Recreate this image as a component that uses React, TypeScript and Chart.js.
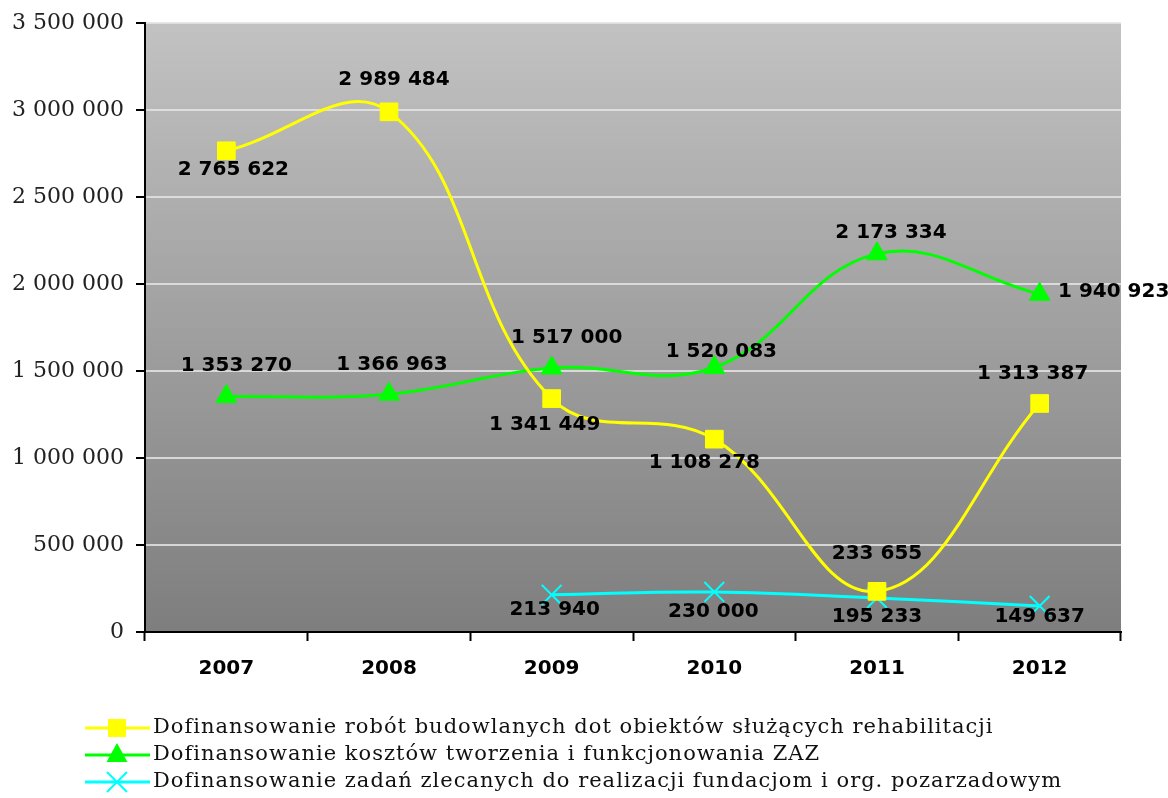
import React, { useEffect, useRef } from "react";
import { Chart, registerables } from "chart.js";

Chart.register(...registerables);

const categories = ["2007", "2008", "2009", "2010", "2011", "2012"];
const seriesNames = [
  "Dofinansowanie robót budowlanych dot obiektów służących rehabilitacji",
  "Dofinansowanie kosztów tworzenia i funkcjonowania ZAZ",
  "Dofinansowanie zadań zlecanych do realizacji fundacjom i org. pozarzadowym",
];
const robotyValues = [2765622, 2989484, 1341449, 1108278, 233655, 1313387];
const zazValues = [1353270, 1366963, 1517000, 1520083, 2173334, 1940923];
const fundacjeValues = [null, null, 213940, 230000, 195233, 149637];
const yTicksMin = 0;
const yTicksMax = 3500000;
const yTicksStep = 500000;

// label placement (text center offset from the point, px)
const robotyLabelOffsets = [[7, 19], [5, -32], [-7, 26], [-10, 24], [0, -38], [-7, -30]];
const zazLabelOffsets = [[10, -31], [3, -29], [15, -30], [7, -16], [14, -21], [74, -2]];
const fundacjeLabelOffsets = [[0, 0], [0, 0], [3, 15], [-1, 20], [0, 19], [0, 11]];

const fmt = (v: number) => String(Math.round(v)).replace(/\B(?=(\d{3})+(?!\d))/g, " ");

const colors = ["#ffff00", "#00ff00", "#00ffff"];
const pointStyles = ["rect", "triangle", "crossRot"];
const pointRadii = [12.5, 12, 14];

const bgPlugin = {
  id: "bgGradient",
  beforeDraw(chart: any) {
    const { ctx, chartArea } = chart;
    if (!chartArea) return;
    const g = ctx.createLinearGradient(0, chartArea.top, 0, chartArea.bottom);
    g.addColorStop(0, "#c2c2c2");
    g.addColorStop(1, "#7e7e7e");
    ctx.save();
    ctx.fillStyle = g;
    ctx.fillRect(chartArea.left, chartArea.top, chartArea.right - chartArea.left, chartArea.bottom - chartArea.top);
    ctx.restore();
  },
};

const labelsPlugin = {
  id: "valueLabels",
  afterDatasetsDraw(chart: any) {
    const { ctx } = chart;
    const offsets = [robotyLabelOffsets, zazLabelOffsets, fundacjeLabelOffsets];
    ctx.save();
    ctx.font = "bold 20px 'DejaVu Sans'";
    ctx.fillStyle = "#000";
    ctx.textAlign = "center";
    ctx.textBaseline = "middle";
    chart.data.datasets.forEach((ds: any, di: number) => {
      const meta = chart.getDatasetMeta(di);
      meta.data.forEach((pt: any, i: number) => {
        const v = ds.data[i];
        if (v === null || v === undefined) return;
        const [dx, dy] = offsets[di][i];
        ctx.fillText(fmt(v), pt.x + dx, pt.y + dy);
      });
    });
    ctx.restore();
  },
};

const legendPlugin = {
  id: "customLegend",
  afterDraw(chart: any) {
    const { ctx } = chart;
    const rowsY = [728, 755, 782];
    ctx.save();
    seriesNames.forEach((name, i) => {
      const y = rowsY[i];
      ctx.strokeStyle = colors[i];
      ctx.lineWidth = 3;
      ctx.beginPath();
      ctx.moveTo(85, y);
      ctx.lineTo(150, y);
      ctx.stroke();
      ctx.fillStyle = colors[i];
      if (i === 0) {
        ctx.fillRect(108, y - 9, 18, 18);
      } else if (i === 1) {
        ctx.beginPath();
        ctx.moveTo(117, y - 12);
        ctx.lineTo(127.5, y + 7);
        ctx.lineTo(106.5, y + 7);
        ctx.closePath();
        ctx.fill();
      } else {
        ctx.lineWidth = 2;
        ctx.beginPath();
        ctx.moveTo(107, y - 10);
        ctx.lineTo(127, y + 10);
        ctx.moveTo(127, y - 10);
        ctx.lineTo(107, y + 10);
        ctx.stroke();
      }
      ctx.fillStyle = "#111";
      ctx.font = "21px 'DejaVu Serif'";
      (ctx as any).letterSpacing = "1px";
      ctx.textAlign = "left";
      ctx.textBaseline = "middle";
      ctx.fillText(name, 153, y);
      (ctx as any).letterSpacing = "0px";
    });
    ctx.restore();
  },
};

export default function App() {
  const canvasRef = useRef<HTMLCanvasElement>(null);
  useEffect(() => {
    document.body.style.margin = "0";
    const canvas = canvasRef.current;
    if (!canvas) return;
    const valueSets = [robotyValues, zazValues, fundacjeValues];
    const chart = new Chart(canvas, {
      type: "line",
      data: {
        labels: categories,
        datasets: valueSets.map((vals, i) => ({
          label: seriesNames[i],
          data: vals,
          borderColor: colors[i],
          backgroundColor: colors[i],
          pointBackgroundColor: colors[i],
          pointBorderColor: colors[i],
          borderWidth: 3,
          pointStyle: pointStyles[i] as any,
          pointRadius: pointRadii[i],
          pointBorderWidth: i === 2 ? 2 : 1,
          tension: 0.4,
          fill: false,
          spanGaps: false,
        })),
      },
      options: {
        animation: false,
        responsive: true,
        maintainAspectRatio: false,
        layout: { padding: { top: 23, right: 47, left: 0, bottom: 0 } },
        plugins: {
          legend: { display: false },
          tooltip: { enabled: false },
        },
        scales: {
          x: {
            offset: true,
            grid: {
              offset: true,
              drawOnChartArea: false,
              drawTicks: true,
              tickLength: 9,
              tickColor: "#000",
              tickWidth: 2,
            },
            border: { color: "#000", width: 2 },
            ticks: {
              color: "#000",
              font: { family: "'DejaVu Sans'", size: 20, weight: "bold" },
              padding: 16,
            },
            afterFit(scale: any) {
              scale.height = 166;
            },
          },
          y: {
            min: yTicksMin,
            max: yTicksMax,
            ticks: {
              stepSize: yTicksStep,
              color: "#222",
              font: { family: "'DejaVu Serif'", size: 22, lineHeight: 0.9 },
              padding: 12,
              callback: (v: any) => fmt(Number(v)),
            },
            grid: {
              color: "rgba(228,228,228,0.85)",
              lineWidth: 2,
              tickLength: 9,
              tickColor: "#000",
              tickWidth: 2,
            },
            border: { color: "#000", width: 2 },
            afterFit(scale: any) {
              scale.width = 145;
            },
          },
        },
      },
      plugins: [bgPlugin, labelsPlugin, legendPlugin],
    });
    return () => chart.destroy();
  }, []);
  return (
    <div style={{ width: 1168, height: 798, position: "relative" }}>
      <canvas ref={canvasRef} />
    </div>
  );
}
